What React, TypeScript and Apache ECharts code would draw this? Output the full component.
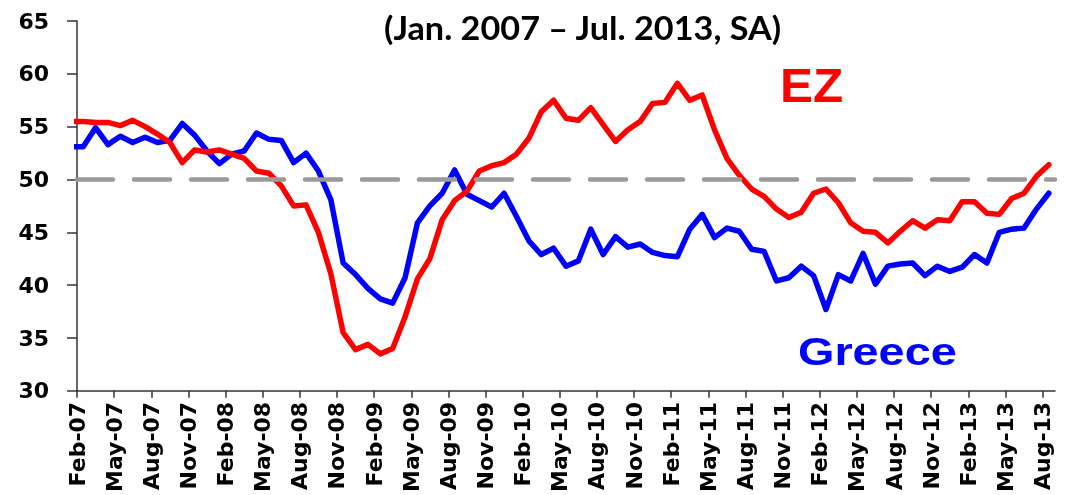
import React, { useEffect, useRef } from "react";
import * as echarts from "echarts";

// Tick labels on the x axis, one every 3 months starting at Feb-07 (axis origin)
const tickLabels = [
  "Feb-07", "May-07", "Aug-07", "Nov-07",
  "Feb-08", "May-08", "Aug-08", "Nov-08",
  "Feb-09", "May-09", "Aug-09", "Nov-09",
  "Feb-10", "May-10", "Aug-10", "Nov-10",
  "Feb-11", "May-11", "Aug-11", "Nov-11",
  "Feb-12", "May-12", "Aug-12", "Nov-12",
  "Feb-13", "May-13", "Aug-13",
];

// Monthly observations Jan-2007 ... Aug-2013 (mid-month, axis origin = 1 Feb 2007)
const firstObservationMonth = -0.5;

const ezValues = [
  55.5, 55.5, 55.4, 55.4, 55.1, 55.6, 55.0, 54.3, 53.5, 51.6,
  52.8, 52.6, 52.8, 52.4, 52.0, 50.8, 50.6, 49.4, 47.5, 47.6,
  45.0, 41.1, 35.5, 33.9, 34.4, 33.5, 34.0, 37.0, 40.6, 42.5,
  46.2, 48.0, 48.9, 50.8, 51.3, 51.6, 52.4, 53.9, 56.4, 57.5,
  55.8, 55.6, 56.8, 55.2, 53.6, 54.7, 55.5, 57.2, 57.3, 59.1,
  57.5, 58.0, 54.7, 52.0, 50.4, 49.1, 48.4, 47.2, 46.4, 46.9,
  48.7, 49.1, 47.8, 45.9, 45.1, 45.0, 44.0, 45.1, 46.1, 45.4,
  46.2, 46.1, 47.9, 47.9, 46.8, 46.7, 48.2, 48.7, 50.3, 51.4,
];

const greeceValues = [
  53.1, 53.1, 54.9, 53.3, 54.1, 53.5, 54.0, 53.5, 53.7, 55.3,
  54.2, 52.7, 51.5, 52.4, 52.7, 54.4, 53.8, 53.7, 51.6, 52.5,
  50.8, 48.1, 42.1, 41.0, 39.7, 38.7, 38.3, 40.7, 45.9, 47.5,
  48.7, 50.9, 48.6, 48.0, 47.4, 48.7, 46.5, 44.2, 42.9, 43.5,
  41.8, 42.3, 45.3, 42.9, 44.6, 43.6, 43.9, 43.1, 42.8, 42.7,
  45.3, 46.7, 44.5, 45.4, 45.1, 43.4, 43.2, 40.4, 40.7, 41.8,
  40.9, 37.7, 41.0, 40.4, 43.0, 40.1, 41.8, 42.0, 42.1, 40.9,
  41.8, 41.3, 41.7, 42.9, 42.1, 45.0, 45.3, 45.4, 47.2, 48.7,
];

const referenceLevel = 50;
const yTicks = { min: 30, max: 65, interval: 5 };
const monthsPerTick = 3;

export default function App() {
  const ref = useRef<HTMLDivElement>(null);

  useEffect(() => {
    if (!ref.current) return;
    const chart = echarts.init(ref.current, null, { renderer: "svg" });

    const toPairs = (vals: number[]) =>
      vals.map((v, i) => [firstObservationMonth + i, v]);
    const tickValues = tickLabels.map((_, i) => i * monthsPerTick);
    const axisMax = (tickLabels.length - 1) * monthsPerTick + 1;

    const axisColor = "#333";
    const labelFont = {
      fontFamily: "DejaVu Sans",
      fontWeight: "bold" as const,
      color: "#000",
    };

    chart.setOption({
      animation: false,
      grid: { left: 77, right: 10, top: 21, bottom: 103, containLabel: false },
      xAxis: {
        type: "value",
        min: 0,
        max: axisMax,
        interval: monthsPerTick,
        axisLine: { show: true, onZero: false, lineStyle: { color: axisColor, width: 1.5 } },
        axisTick: {
          show: true,
          length: 7,
          customValues: tickValues,
          lineStyle: { color: axisColor, width: 1.5 },
        },
        axisLabel: {
          customValues: tickValues,
          rotate: 90,
          margin: 11,
          fontSize: 22,
          ...labelFont,
          formatter: (v: number) => tickLabels[Math.round(v / monthsPerTick)] ?? "",
        },
        splitLine: { show: false },
      },
      yAxis: {
        type: "value",
        min: yTicks.min,
        max: yTicks.max,
        interval: yTicks.interval,
        axisLine: { show: true, lineStyle: { color: axisColor, width: 1.5 } },
        axisTick: { show: true, length: 10, lineStyle: { color: axisColor, width: 1.5 } },
        axisLabel: { margin: 28, fontSize: 22, ...labelFont },
        splitLine: { show: false },
      },
      series: [
        {
          type: "line",
          name: "Reference",
          data: [],
          z: 1,
          silent: true,
          markLine: {
            silent: true,
            symbol: "none",
            label: { show: false },
            lineStyle: {
              color: "#999999",
              width: 4.5,
              type: [36, 21],
              cap: "round",
            },
            data: [{ yAxis: referenceLevel }],
          },
        },
        {
          type: "line",
          name: "Greece",
          data: toPairs(greeceValues),
          showSymbol: false,
          clip: true,
          z: 2,
          lineStyle: { color: "#0000ff", width: 5.5, join: "round", cap: "round" },
          itemStyle: { color: "#0000ff" },
        },
        {
          type: "line",
          name: "EZ",
          data: toPairs(ezValues),
          showSymbol: false,
          clip: true,
          z: 3,
          lineStyle: { color: "#ff0000", width: 5.5, join: "round", cap: "round" },
          itemStyle: { color: "#ff0000" },
        },
      ],
      graphic: [
        {
          type: "text",
          x: 384,
          y: 27,
          scaleX: 1.07,
          style: {
            text: "(Jan. 2007 \u2013 Jul. 2013, SA)",
            fontFamily: "Lato",
            fontWeight: "bold",
            fontSize: 32,
            fill: "#000",
            textAlign: "left",
            textVerticalAlign: "middle",
          },
        },
        {
          type: "text",
          x: 780,
          y: 85,
          scaleX: 1.03,
          style: {
            text: "EZ",
            fontFamily: "Liberation Sans",
            fontWeight: "bold",
            fontSize: 48,
            fill: "#ff0000",
            textAlign: "left",
            textVerticalAlign: "middle",
          },
        },
        {
          type: "text",
          x: 798,
          y: 351,
          scaleX: 1.2,
          style: {
            text: "Greece",
            fontFamily: "Liberation Sans",
            fontWeight: "bold",
            fontSize: 39,
            fill: "#0000ff",
            textAlign: "left",
            textVerticalAlign: "middle",
          },
        },
      ],
    });

    return () => chart.dispose();
  }, []);

  return (
    <div
      ref={ref}
      style={{ position: "fixed", left: 0, top: 0, width: 1065, height: 495 }}
    />
  );
}
